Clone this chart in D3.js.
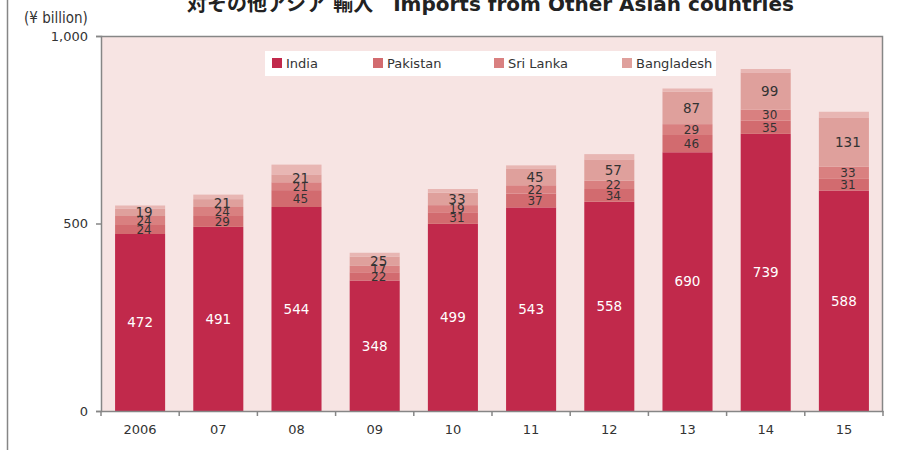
<!DOCTYPE html>
<html>
<head>
<meta charset="utf-8">
<script src="https://cdn.jsdelivr.net/npm/d3@7"></script>
<style>
  html, body { margin: 0; padding: 0; background: #ffffff; }
  svg { display: block; }
</style>
</head>
<body>
<svg id="chart" width="903" height="450"></svg>
<script>
// ---- data ----
const years = ["2006", "07", "08", "09", "10", "11", "12", "13", "14", "15"];
const india = [472, 491, 544, 348, 499, 543, 558, 690, 739, 588];
const pakistan = [24, 29, 45, 22, 31, 37, 34, 46, 35, 31];
const sriLanka = [24, 24, 21, 17, 19, 22, 22, 29, 30, 33];
const bangladesh = [19, 21, 21, 25, 33, 45, 57, 87, 99, 131];
const others = [9, 12, 26, 10, 10, 8, 14, 8, 9, 15];
const seriesNames = ["India", "Pakistan", "Sri Lanka", "Bangladesh", "Others"];
const yTicks = [0, 500, 1000];
const titleText = "対その他アジア 輸入　Imports from Other Asian countries";
const unitText = "(¥ billion)";

// ---- styles ----
const colors = ["#c1294b", "#d26b6f", "#d98080", "#dfa09c", "#e8b6b3"];
const axisColor = "#868686";
const textColor = "#333333";
const fontFamily = "'DejaVu Sans', Verdana, 'Noto Sans CJK JP', sans-serif";

const svg = d3.select("#chart");
const plot = { left: 101, right: 883, top: 36, bottom: 411 };

const table = years.map((yr, i) => ({
  year: yr,
  India: india[i],
  Pakistan: pakistan[i],
  "Sri Lanka": sriLanka[i],
  Bangladesh: bangladesh[i],
  Others: others[i]
}));

const x = d3.scaleBand().domain(years).range([plot.left, plot.right])
  .paddingInner(0.36).paddingOuter(0.18);
const y = d3.scaleLinear().domain([0, 1000]).range([plot.bottom, plot.top]);
const stack = d3.stack().keys(seriesNames)(table);

// outer frame line on the left
svg.append("line").attr("x1", 7.5).attr("x2", 7.5).attr("y1", 0).attr("y2", 450)
  .attr("stroke", axisColor).attr("stroke-width", 1.5);

// plot background
svg.append("rect")
  .attr("x", plot.left).attr("y", plot.top)
  .attr("width", plot.right - plot.left).attr("height", plot.bottom - plot.top)
  .attr("fill", "#f7e4e3");

// bars
const layers = svg.append("g").selectAll("g").data(stack).join("g")
  .attr("fill", (d, i) => colors[i]);
layers.selectAll("rect").data(d => d).join("rect")
  .attr("x", d => x(d.data.year))
  .attr("width", x.bandwidth())
  .attr("y", d => y(d[1]))
  .attr("height", d => y(d[0]) - y(d[1]));

// value labels
stack.forEach((layer, li) => {
  if (li === 4) return;
  const g = svg.append("g")
    .attr("font-family", fontFamily)
    .attr("text-anchor", "middle");
  g.selectAll("text").data(layer).join("text")
    .attr("x", d => x(d.data.year) + x.bandwidth() / 2 + (li === 0 ? 0 : 4))
    .attr("y", d => (y(d[0]) + y(d[1])) / 2)
    .attr("dy", "0.36em")
    .attr("font-size", li === 0 || li === 3 ? "13.5px" : "12px")
    .attr("fill", li === 0 ? "#ffffff" : textColor)
    .text(d => d[1] - d[0]);
});

// plot border top and right
svg.append("path")
  .attr("d", `M${plot.left},${plot.top + 0.5}H${plot.right - 0.5}V${plot.bottom}`)
  .attr("fill", "none").attr("stroke", axisColor).attr("stroke-width", 1.5);

// y axis
const yAxis = svg.append("g")
  .attr("transform", `translate(${plot.left},0)`)
  .call(d3.axisLeft(y).tickValues(yTicks).tickSize(5).tickPadding(8).tickFormat(d3.format(",")));
yAxis.select(".domain").attr("stroke", axisColor).attr("stroke-width", 1.5);
yAxis.selectAll(".tick line").attr("stroke", axisColor).attr("stroke-width", 1.5);
yAxis.selectAll("text").attr("font-family", fontFamily).attr("font-size", "13px").attr("fill", textColor);

// x axis
const xAxis = svg.append("g")
  .attr("transform", `translate(0,${plot.bottom})`)
  .call(d3.axisBottom(x).tickSize(0).tickPadding(14));
xAxis.select(".domain").attr("stroke", axisColor).attr("stroke-width", 1.5);
xAxis.selectAll("text").attr("font-family", fontFamily).attr("font-size", "13px").attr("fill", textColor);
const gap = (x.step() - x.bandwidth()) / 2;
const bounds = years.map(yr => x(yr) - gap).concat([x(years[years.length - 1]) + x.bandwidth() + gap]);
xAxis.selectAll("line.sep").data(bounds).join("line").attr("class", "sep")
  .attr("x1", d => d).attr("x2", d => d).attr("y1", 0).attr("y2", 5)
  .attr("stroke", axisColor).attr("stroke-width", 1.5);

// legend
const legend = svg.append("g");
legend.append("rect").attr("x", 265).attr("y", 51).attr("width", 451).attr("height", 25).attr("fill", "#ffffff");
const legendX = [272, 373, 494, 622];
seriesNames.slice(0, 4).forEach((name, i) => {
  legend.append("rect").attr("x", legendX[i]).attr("y", 58).attr("width", 10).attr("height", 10)
    .attr("fill", colors[i]);
  legend.append("text").attr("x", legendX[i] + 14).attr("y", 63).attr("dy", "0.36em")
    .attr("font-family", fontFamily).attr("font-size", "13px").attr("fill", textColor)
    .text(name);
});

// unit label
svg.append("text").attr("x", 24).attr("y", 18).attr("dy", "0.36em")
  .attr("font-family", "'DejaVu Sans Condensed', 'DejaVu Sans', sans-serif")
  .attr("font-size", "15px").attr("fill", textColor).text(unitText);

// title (partially cut off at top)
svg.append("text").attr("x", 187).attr("y", 11)
  .attr("font-family", fontFamily).attr("font-weight", "bold")
  .attr("font-size", "20px").attr("fill", "#222222").text(titleText);
</script>
</body>
</html>
